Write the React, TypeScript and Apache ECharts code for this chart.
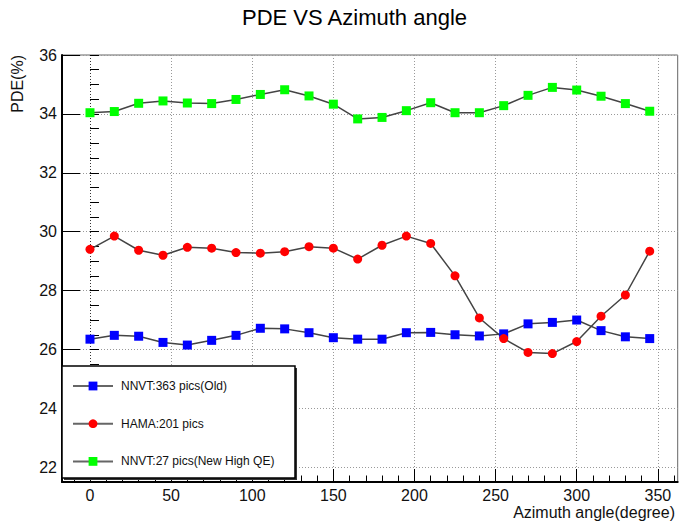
import React, { useEffect, useRef } from "react";
import * as echarts from "echarts";

const FONT = "Liberation Sans, Arial, Helvetica, sans-serif";

const angles = [0, 15, 30, 45, 60, 75, 90, 105, 120, 135, 150, 165, 180, 195, 210, 225, 240, 255, 270, 285, 300, 315, 330, 345];

const nnvtOld = [26.35, 26.48, 26.45, 26.24, 26.15, 26.31, 26.48, 26.72, 26.70, 26.57, 26.40, 26.35, 26.35, 26.57, 26.58, 26.50, 26.46, 26.53, 26.87, 26.92, 27.00, 26.64, 26.43, 26.37];
const hama = [29.40, 29.85, 29.37, 29.20, 29.47, 29.44, 29.29, 29.27, 29.32, 29.49, 29.44, 29.07, 29.54, 29.85, 29.60, 28.50, 27.07, 26.37, 25.90, 25.86, 26.27, 27.13, 27.85, 29.34];
const nnvtNew = [34.04, 34.08, 34.36, 34.44, 34.37, 34.35, 34.49, 34.66, 34.82, 34.61, 34.33, 33.83, 33.88, 34.11, 34.38, 34.04, 34.04, 34.28, 34.63, 34.90, 34.81, 34.60, 34.35, 34.09];

const seriesNames = ["NNVT:363 pics(Old)", "HAMA:201 pics", "NNVT:27 pics(New High QE)"];

const xMajorTicks = [0, 50, 100, 150, 200, 250, 300, 350];
const yMajorTicks = [22, 24, 26, 28, 30, 32, 34, 36];
const xMinorTicks = Array.from({ length: 38 }, (_, i) => -10 + 10 * i);
const yMinorTicks = Array.from({ length: 29 }, (_, i) => 22 + 0.5 * i);

const X_MIN = -17.25;
const X_MAX = 362.25;
const Y_MIN = 21.5;
const Y_MAX = 36;

const pairs = (vals: number[]) => angles.map((a, i) => [a, vals[i]]);

export default function App() {
  const ref = useRef<HTMLDivElement>(null);
  useEffect(() => {
    if (!ref.current) return;
    const chart = echarts.init(ref.current, null, { renderer: "svg" });
    const lineStyle = { color: "#444", width: 1.5 };
    const mk = (name: string, vals: number[], symbol: string, color: string) => ({
      name,
      type: "line",
      data: pairs(vals),
      symbol,
      symbolSize: 9,
      showSymbol: true,
      lineStyle,
      itemStyle: { color, borderWidth: 0 },
      xAxisIndex: 0,
      yAxisIndex: 0,
      z: 3,
    });
    chart.setOption({
      animation: false,
      backgroundColor: "#fff",
      title: {
        text: "PDE VS Azimuth angle",
        left: 242,
        top: 6,
        padding: 0,
        textStyle: { fontSize: 22, fontWeight: "normal", color: "#000", fontFamily: FONT },
      },
      grid: {
        left: 62,
        top: 55,
        right: 1.3,
        bottom: 41,
        show: true,
        borderColor: "#666",
        borderWidth: 1,
        outerBoundsMode: "none",
      },
      xAxis: [
        {
          type: "value",
          min: X_MIN,
          max: X_MAX,
          position: "bottom",
          axisLine: { show: true, onZero: false, lineStyle: { color: "#000", width: 2 } },
          axisTick: { show: true, inside: true, length: 13, customValues: xMajorTicks, lineStyle: { color: "#000", width: 1 } },
          axisLabel: { customValues: xMajorTicks, margin: 5, fontSize: 16, lineHeight: 16, color: "#111", fontFamily: FONT },
          splitLine: {
            show: true,
            lineStyle: { type: [1, 2], width: 1, color: ["#333", "#999", "#999", "#999", "#999", "#999", "#999", "#999"] },
          },
        },
        {
          type: "value",
          min: X_MIN,
          max: X_MAX,
          position: "bottom",
          axisLine: { show: false },
          axisTick: { show: true, inside: true, length: 6.5, customValues: xMinorTicks, lineStyle: { color: "#000", width: 1 } },
          axisLabel: { show: false },
          splitLine: { show: false },
        },
      ],
      yAxis: [
        {
          type: "value",
          min: Y_MIN,
          max: Y_MAX,
          position: "left",
          axisLine: { show: true, onZero: false, lineStyle: { color: "#000", width: 2 } },
          axisTick: { show: true, inside: true, length: 18, customValues: yMajorTicks, lineStyle: { color: "#000", width: 1 } },
          axisLabel: { customValues: yMajorTicks, margin: 5, fontSize: 16, color: "#111", fontFamily: FONT },
          splitLine: { show: true, lineStyle: { type: [1, 2], width: 1, color: "#999" } },
        },
        {
          type: "value",
          min: Y_MIN,
          max: Y_MAX,
          position: "left",
          axisLine: { show: false },
          axisTick: { show: true, inside: true, length: 9, customValues: yMinorTicks, lineStyle: { color: "#000", width: 1 } },
          axisLabel: { show: false },
          splitLine: { show: false },
        },
      ],
      legend: {
        orient: "vertical",
        left: 72,
        top: 380,
        padding: 0,
        itemWidth: 40,
        itemHeight: 11,
        itemGap: 25.7,
        z: 200,
        data: seriesNames,
        lineStyle: { color: "#666", width: 2 },
        textStyle: { fontSize: 12, color: "#111", fontFamily: FONT, padding: [0, 0, 0, 3] },
      },
      graphic: [
        { type: "rect", z: 99, shape: { x: 64, y: 368, width: 233, height: 112 }, style: { fill: "#333" } },
        { type: "rect", z: 100, shape: { x: 62, y: 366, width: 233, height: 112 }, style: { fill: "#fff", stroke: "#000", lineWidth: 1.5 } },
        {
          type: "text",
          z: 100,
          x: 17,
          y: 55,
          rotation: Math.PI / 2,
          style: { text: "PDE(%)", align: "right", verticalAlign: "middle", fontSize: 16, fill: "#111", fontFamily: FONT },
        },
        {
          type: "text",
          z: 100,
          x: 675,
          y: 512.5,
          style: { text: "Azimuth angle(degree)", align: "right", verticalAlign: "middle", fontSize: 16, lineHeight: 16, fill: "#111", fontFamily: FONT },
        },
      ],
      series: [
        mk(seriesNames[0], nnvtOld, "rect", "#0000ff"),
        mk(seriesNames[1], hama, "circle", "#ff0000"),
        mk(seriesNames[2], nnvtNew, "rect", "#00ff00"),
      ],
    });
    return () => chart.dispose();
  }, []);
  return <div ref={ref} style={{ position: "fixed", left: 0, top: 0, width: 679, height: 523 }} />;
}
